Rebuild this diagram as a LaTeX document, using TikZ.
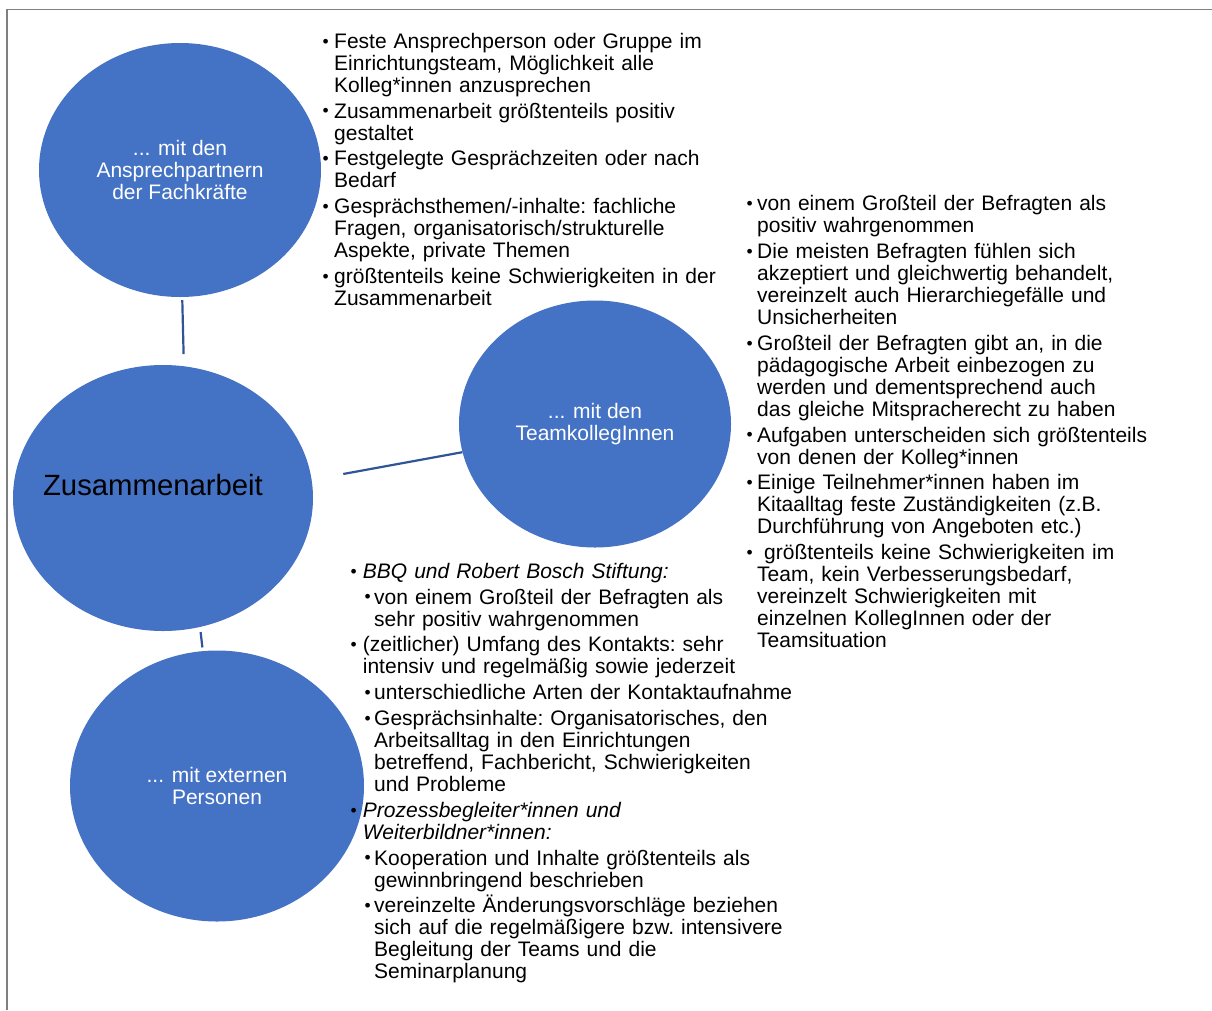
\documentclass[tikz,border=0pt]{standalone}
\usepackage{fontspec}
\setmainfont{Liberation Sans}
\usetikzlibrary{shapes.geometric,calc}
\definecolor{bubble}{HTML}{4472C4}
\definecolor{spoke}{HTML}{2F5597}
\definecolor{frame}{HTML}{7F7F7F}
\definecolor{ink}{HTML}{000000}
\tikzset{
  bub/.style={
    ellipse, fill=bubble, draw=none, inner sep=0pt,
    align=center, text=white, font=\fontsize{21}{22}\selectfont},
  hub/.style={font=\fontsize{29.3}{30}\selectfont, text=ink, inner sep=0pt},
  spk/.style={draw=spoke, line width=2.2pt},
  frm/.style={draw=frame, line width=1.6pt},
  notes/.style={
    anchor=base west, inner sep=0pt, text width=480pt, text=ink,
    font=\fontsize{21}{22}\selectfont,
    execute at begin node={\setlength{\parskip}{3.8pt}\frenchspacing}},
}
% one bullet, and one bullet a level deeper; \nl breaks inside a bullet
\newcommand{\nl}{\hfil\break}
\newcommand{\bul}{\hspace*{0.5pt}\raisebox{1.2pt}{\fontsize{17.5}{17.5}\selectfont\textbullet}}
\newcommand{\itm}[2][12pt]{\noindent\hangindent=#1\relax\hangafter=1\relax
  \makebox[#1][l]{\bul}#2\par}
\newcommand{\subitm}[3]{\noindent\hangindent=#2\relax\hangafter=1\relax
  \hspace*{#1}\makebox[\dimexpr#2-#1\relax][l]{\bul}#3\par}

\begin{document}
\begin{tikzpicture}[x=1pt, y=-1pt]
\useasboundingbox (0,0) rectangle (1212,1010);

% the frame, cut at the right and at the bottom
\draw[frm] (7,1010) -- (7,9.5) -- (1212,9.5);

% =====================================================================
\node[bub, minimum width=282pt, minimum height=254pt] (ansp) at (180,170)
  {... mit den\\Ansprechpartnern\\der Fachkräfte};
\node[bub, minimum width=300pt, minimum height=266pt] (zus) at (163,498) {};
\node[hub, anchor=base] (zuslbl) at ($(zus.center)+(-10,-2.3)$) {Zusammenarbeit};
\node[bub, minimum width=272pt, minimum height=247pt] (team) at (595,424)
  {... mit den\\TeamkollegInnen};
\node[bub, minimum width=294pt, minimum height=271pt] (ext) at (217,786)
  {... mit externen\\Personen};

\draw[spk, shorten <=3pt, shorten >=12pt] (ansp.-89) -- (zus.81);
\draw[spk, shorten <=32pt] (zus.7) -- (team.192);
\draw[spk, shorten <=5pt, shorten >=3.5pt] (zus.-74) -- (ext.96);

% =====================================================================
\node[notes] (anspnotes) at (322,48.3) {%
  \itm{Feste Ansprechperson oder Gruppe im\nl Einrichtungsteam, Möglichkeit alle\nl Kolleg*innen anzusprechen}
  \itm{Zusammenarbeit größtenteils positiv\nl gestaltet}
  \itm{Festgelegte Gesprächzeiten oder nach\nl Bedarf}
  \itm{Gesprächsthemen/-inhalte: fachliche\nl Fragen, organisatorisch/strukturelle\nl Aspekte, private Themen}
  \itm{größtenteils keine Schwierigkeiten in der\nl Zusammenarbeit}};

\node[notes] (teamnotes) at (746,210.7) {%
  \itm[11pt]{von einem Großteil der Befragten als\nl positiv wahrgenommen}
  \itm[11pt]{Die meisten Befragten fühlen sich\nl akzeptiert und gleichwertig behandelt,\nl vereinzelt auch Hierarchiegefälle und\nl Unsicherheiten}
  \itm[11pt]{Großteil der Befragten gibt an, in die\nl pädagogische Arbeit einbezogen zu\nl werden und dementsprechend auch\nl das gleiche Mitspracherecht zu haben}
  \itm[11pt]{Aufgaben unterscheiden sich größtenteils\nl von denen der Kolleg*innen}
  \itm[11pt]{Einige Teilnehmer*innen haben im\nl Kitaalltag feste Zuständigkeiten (z.B.\nl Durchführung von Angeboten etc.)}
  \itm[11pt]{\ größtenteils keine Schwierigkeiten im\nl Team, kein Verbesserungsbedarf,\nl vereinzelt Schwierigkeiten mit\nl einzelnen KollegInnen oder der\nl Teamsituation}};

\node[notes] (extnotes) at (350,578.3) {%
  \itm[12.7pt]{\textit{BBQ und Robert Bosch Stiftung:}}
  \subitm{14pt}{24pt}{von einem Großteil der Befragten als\nl sehr positiv wahrgenommen}
  \itm[12.7pt]{(zeitlicher) Umfang des Kontakts: sehr\nl intensiv und regelmäßig sowie jederzeit}
  \subitm{14pt}{24pt}{unterschiedliche Arten der Kontaktaufnahme}
  \subitm{14pt}{24pt}{Gesprächsinhalte: Organisatorisches, den\nl Arbeitsalltag in den Einrichtungen\nl betreffend, Fachbericht, Schwierigkeiten\nl und Probleme}
  \itm[12.7pt]{\textit{Prozessbegleiter*innen und\nl Weiterbildner*innen:}}
  \subitm{14pt}{24pt}{Kooperation und Inhalte größtenteils als\nl gewinnbringend beschrieben}
  \subitm{14pt}{24pt}{vereinzelte Änderungsvorschläge beziehen\nl sich auf die regelmäßigere bzw. intensivere\nl Begleitung der Teams und die\nl Seminarplanung}};

\end{tikzpicture}
\end{document}
